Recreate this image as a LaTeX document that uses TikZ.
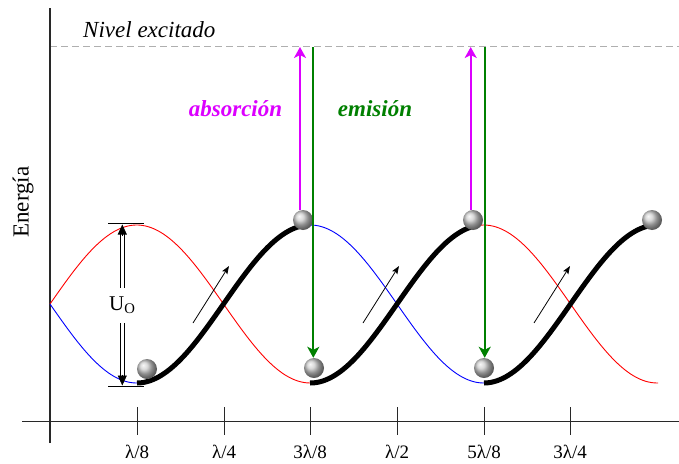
\documentclass[tikz,border=0pt]{standalone}
\usepackage{fontspec}
\setmainfont{Liberation Serif}
\usetikzlibrary{arrows.meta,shadings}
\definecolor{absc}{RGB}{220,0,255}
\definecolor{emic}{RGB}{0,128,0}
\definecolor{axisc}{RGB}{40,40,40}
\definecolor{dashc}{RGB}{175,175,175}
\tikzset{
  axisline/.style={axisc,line width=1.4pt},
  ticklabel/.style={anchor=base,inner sep=0pt,font=\fontsize{19}{22}\selectfont},
  bigtext/.style={inner sep=0pt,font=\fontsize{23}{27}\selectfont},
  redc/.style={red,line width=0.9pt},
  bluec/.style={blue,line width=0.9pt},
  thickc/.style={black,line width=5pt},
  ballst/.style={circle,minimum size=20pt,inner sep=0pt,ball color=gray!40},
  absarrow/.style={absc,line width=2pt,-{Stealth[length=11pt,width=12pt,inset=3pt]}},
  emiarrow/.style={emic,line width=2pt,-{Stealth[length=11pt,width=12pt,inset=3pt]}},
  smallarrow/.style={black,line width=0.8pt,-{Stealth[length=8pt,width=6pt,inset=1.5pt]}},
  uline/.style={black,line width=1pt},
  utip/.style={black,line width=0.7pt,-{Triangle[length=10pt,width=9pt]}},
}
\begin{document}
\begin{tikzpicture}[x=1pt,y=-1pt]
\useasboundingbox (0,0) rectangle (679,463);
% excited level
\coordinate (dl) at (50,46.7);
\coordinate (dr) at (679,46.7);
\draw[dashc,line width=0.9pt,dash pattern=on 7pt off 4pt] (dl) -- (dr);
\node[bigtext,anchor=base west,font=\fontsize{23}{27}\selectfont\itshape] (nivel) at (83,37) {Nivel excitado};
% axes
\coordinate (yb) at (50,443);
\coordinate (yt) at (50,8);
\coordinate (xl) at (22,421.7);
\coordinate (xr) at (679,421.7);
\draw[axisline] (yb) -- (yt);
\draw[axisline] (xl) -- (xr);
\node[bigtext,rotate=90] (energia) at (23,202) {Energía};
% ticks
\foreach \k/\xx/\lab in {1/137.2/{λ/8},2/224.2/{λ/4},3/310.2/{3λ/8},4/397.2/{λ/2},5/484.2/{5λ/8},6/570.2/{3λ/4}}{
  \coordinate (ta\k) at (\xx,407);
  \coordinate (tb\k) at (\xx,435);
  \draw[axisline] (ta\k) -- (tb\k);
  \node[ticklabel] (tl\k) at (\xx,458) {\lab};
}
% curves
\draw[redc] plot[domain=50:658,samples=200] (\x,{304-79*sin(1.037464*(\x-50))});
\draw[bluec] plot[domain=50:658,samples=200] (\x,{304+79*sin(1.037464*(\x-50))});
\draw[thickc] plot[domain=137:303,samples=80] (\x,{304+79*sin(1.037464*(\x-50))});
\draw[thickc] plot[domain=310:473,samples=80] (\x,{304-79*sin(1.037464*(\x-50))});
\draw[thickc] plot[domain=484:647,samples=80] (\x,{304+79*sin(1.037464*(\x-50))});
% small arrows
\coordinate (s1a) at (193,323); \coordinate (s1b) at (229,266);
\coordinate (s2a) at (363,323); \coordinate (s2b) at (399,266);
\coordinate (s3a) at (534,323); \coordinate (s3b) at (570,266);
\draw[smallarrow] (s1a) -- (s1b);
\draw[smallarrow] (s2a) -- (s2b);
\draw[smallarrow] (s3a) -- (s3b);
% U_O
\coordinate (ul1) at (108,223.5); \coordinate (ur1) at (144,223.5);
\coordinate (ul2) at (108,386); \coordinate (ur2) at (144,386);
\draw[black,line width=0.9pt] (ul1) -- (ur1);
\draw[black,line width=0.9pt] (ul2) -- (ur2);
\coordinate (utop) at (122.3,224.5);
\coordinate (ubot) at (122.3,385.5);
\node[inner sep=0pt,minimum height=35pt,font=\fontsize{21}{24}\selectfont] (U) at (122.3,305.5) {U\textsubscript{O}};
\draw[uline] ([xshift=-1.7pt]U.north) -- ([xshift=-1.7pt,yshift=-8pt]utop);
\draw[uline] ([xshift=1.7pt]U.north) -- ([xshift=1.7pt,yshift=-8pt]utop);
\draw[uline] ([xshift=-1.7pt]U.south) -- ([xshift=-1.7pt,yshift=8pt]ubot);
\draw[uline] ([xshift=1.7pt]U.south) -- ([xshift=1.7pt,yshift=8pt]ubot);
\draw[utip] ([yshift=-11pt]utop) -- (utop);
\draw[utip] ([yshift=11pt]ubot) -- (ubot);
% balls
\node[ballst] (b1) at (147,369) {};
\node[ballst] (b2) at (303,220) {};
\node[ballst] (b3) at (314,368) {};
\node[ballst] (b4) at (473,220) {};
\node[ballst] (b5) at (484,368) {};
\node[ballst] (b6) at (652,220) {};
% transitions
\coordinate (ea1) at (300,47);
\coordinate (ee1) at (313.3,47);
\coordinate (ea2) at (470.7,47);
\coordinate (ee2) at (484.7,47);
\draw[absarrow] (ea1 |- b2.north) -- (ea1);
\draw[emiarrow] (ee1) -- (ee1 |- b3.north);
\draw[absarrow] (ea2 |- b4.north) -- (ea2);
\draw[emiarrow] (ee2) -- (ee2 |- b5.north);
\node[bigtext,anchor=base,text=absc,font=\fontsize{23}{27}\selectfont\bfseries\itshape] (abs) at (235.5,116) {absorción};
\node[bigtext,anchor=base,text=emic,font=\fontsize{23}{27}\selectfont\bfseries\itshape] (emi) at (375,116) {emisión};
\end{tikzpicture}
\end{document}
